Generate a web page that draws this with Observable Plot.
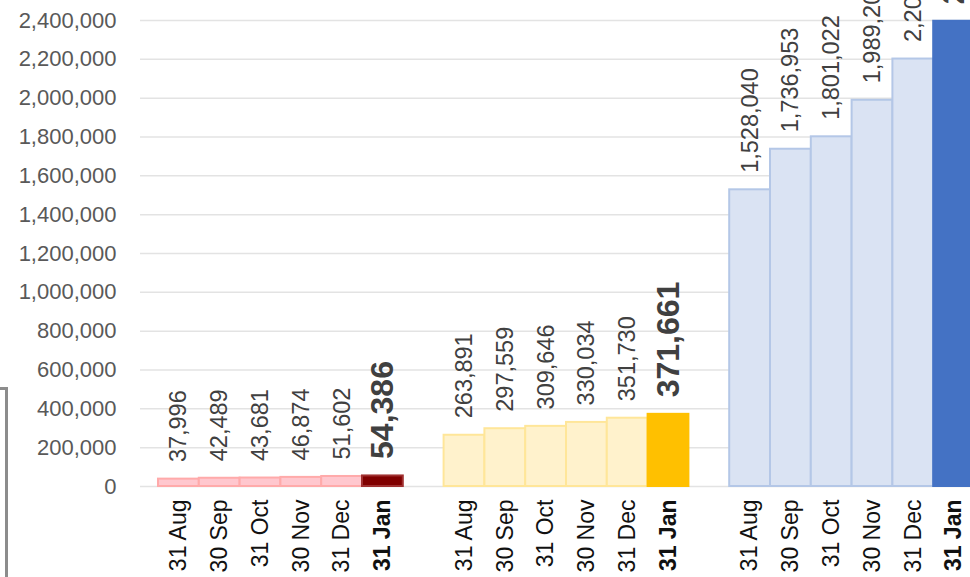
<!DOCTYPE html>
<html>
<head>
<meta charset="utf-8">
<script src="https://cdn.jsdelivr.net/npm/d3@7"></script>
<script src="https://cdn.jsdelivr.net/npm/@observablehq/plot@0.6"></script>
<style>
  html, body { margin: 0; padding: 0; background: #fff; overflow: hidden; }
  #wrap { position: relative; width: 970px; height: 577px; overflow: hidden; }
  #box { position: absolute; left: -3px; top: 387px; width: 8px; height: 220px;
         border-top: 3px solid #8c8c8c; border-right: 3px solid #8c8c8c; }
</style>
</head>
<body>
<div id="wrap"><div id="box"></div></div>
<script>
const months = ["31 Aug", "30 Sep", "31 Oct", "30 Nov", "31 Dec", "31 Jan"];
const groups = ["A", "B", "C"];
const valuesA = [37996, 42489, 43681, 46874, 51602, 54386];
const valuesB = [263891, 297559, 309646, 330034, 351730, 371661];
const valuesC = [1528040, 1736953, 1801022, 1989204, 2201500, 2396000];
const yTicks = [0, 200000, 400000, 600000, 800000, 1000000, 1200000, 1400000, 1600000, 1800000, 2000000, 2200000, 2400000];

const lightFill = {A: "#ffc7ce", B: "#fff2cc", C: "#dae3f3"};
const lightStroke = {A: "#ffaaaa", B: "#ffe699", C: "#b4c7e7"};
const darkFill = {A: "#800000", B: "#ffc000", C: "#4472c4"};

const seriesValues = {A: valuesA, B: valuesB, C: valuesC};
const data = [];
const domain = [];
groups.forEach((g, gi) => {
  if (gi > 0) domain.push("gap" + gi);
  months.forEach((m, i) => {
    const key = g + "|" + m;
    domain.push(key);
    const last = i === months.length - 1;
    data.push({
      key, group: g, month: m, value: seriesValues[g][i], last,
      fill: last ? darkFill[g] : lightFill[g],
      stroke: last ? (g === "A" ? "#a03030" : darkFill[g]) : lightStroke[g]
    });
  });
});

const fmt = d3.format(",");
const font = "'Liberation Sans', Arial, sans-serif";

const chart = Plot.plot({
  width: 970,
  height: 577,
  marginLeft: 140,
  marginRight: -22,
  marginTop: 20,
  marginBottom: 91,
  style: {fontFamily: font, background: "transparent", overflow: "hidden", maxWidth: "none"},
  x: {domain, type: "band", paddingInner: 0, paddingOuter: 0.441, round: false, axis: null},
  y: {domain: [0, 2400000], axis: null},
  color: {type: "identity"},
  marks: [
    Plot.ruleY(yTicks, {stroke: "#e3e3e3", strokeWidth: 1.5}),
    Plot.axisY(yTicks, {tickSize: 0, tickPadding: 24, fontSize: 22, fill: "#595959", tickFormat: fmt, label: null}),
    Plot.barY(data, {x: "key", y: "value", fill: "fill", stroke: "stroke", strokeWidth: 2}),
    Plot.text(data.filter(d => !d.last), {
      x: "key", y: "value", text: d => fmt(d.value), rotate: -90,
      textAnchor: "start", lineAnchor: "middle", dy: -17, fontSize: 23.5, fill: "#404040"
    }),
    Plot.text(data.filter(d => d.last), {
      x: "key", y: "value", text: d => fmt(d.value), rotate: -90,
      textAnchor: "start", lineAnchor: "middle", dy: -17, fontSize: 32, fontWeight: "bold", fill: "#404040"
    }),
    Plot.text(data.filter(d => !d.last), {
      x: "key", text: "month", frameAnchor: "bottom", rotate: -90,
      textAnchor: "end", lineAnchor: "middle", dy: 13, fontSize: 23, fill: "#111"
    }),
    Plot.text(data.filter(d => d.last), {
      x: "key", text: "month", frameAnchor: "bottom", rotate: -90,
      textAnchor: "end", lineAnchor: "middle", dy: 13, fontSize: 23, fontWeight: "bold", fill: "#111"
    })
  ]
});
document.getElementById("wrap").prepend(chart);
</script>
</body>
</html>
